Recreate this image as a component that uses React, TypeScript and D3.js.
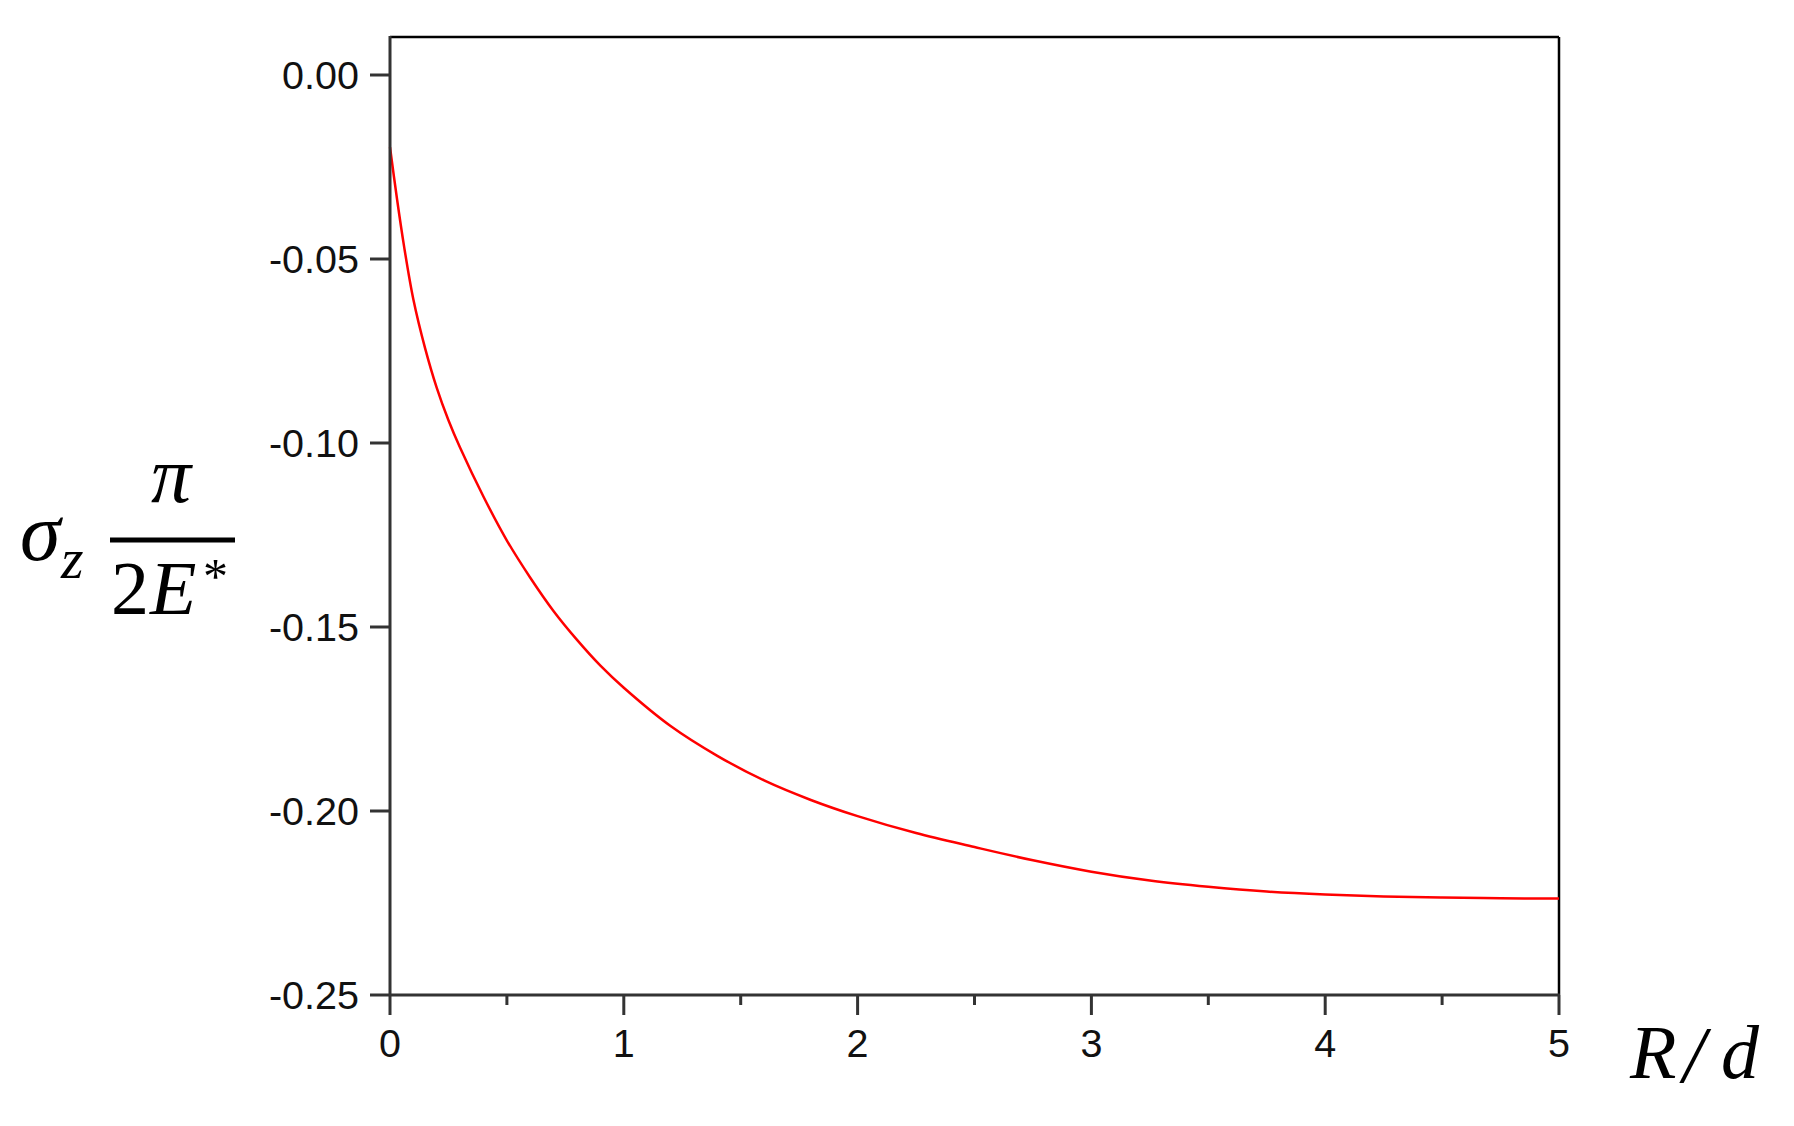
import React from "react";
import * as d3 from "d3";

const xValues = [0, 0.03, 0.06, 0.1, 0.15, 0.2, 0.25, 0.3, 0.4, 0.5, 0.6, 0.7, 0.8, 0.9, 1.0, 1.2, 1.4, 1.6, 1.8, 2.0, 2.25, 2.5, 2.75, 3.0, 3.25, 3.5, 3.75, 4.0, 4.25, 4.5, 4.75, 5.0];
const yValues = [-0.0196, -0.0337, -0.0465, -0.061, -0.0742, -0.085, -0.0938, -0.1013, -0.1146, -0.1265, -0.1366, -0.1457, -0.1535, -0.1605, -0.1665, -0.1769, -0.185, -0.1917, -0.197, -0.2014, -0.206, -0.2098, -0.2134, -0.2165, -0.2189, -0.2206, -0.2219, -0.2227, -0.2232, -0.2235, -0.2237, -0.2238];
const xMajorTicks = [0, 1, 2, 3, 4, 5];
const xMinorTicks = [0.5, 1.5, 2.5, 3.5, 4.5];
const yTicks = [0, -0.05, -0.1, -0.15, -0.2, -0.25];
const yTickLabels = ["0.00", "-0.05", "-0.10", "-0.15", "-0.20", "-0.25"];

const W = 1794;
const H = 1126;
const left = 390;
const right = 1559;
const frameTop = 37;
const bottom = 995;

export default function App() {
  const x = d3.scaleLinear().domain([0, 5]).range([left, right]);
  const y = d3.scaleLinear().domain([-0.25, 0]).range([bottom, 75]);
  const pts = xValues.map((v, i) => [v, yValues[i]] as [number, number]);
  const line = d3
    .line<[number, number]>()
    .x((d) => x(d[0]))
    .y((d) => y(d[1]))
    .curve(d3.curveCatmullRom.alpha(0.5));

  const sans = "'Liberation Sans', Arial, sans-serif";
  const serif = "'Liberation Serif', 'DejaVu Serif', serif";

  return (
    <div style={{ position: "absolute", left: 0, top: 0 }}>
      <svg width={W} height={H} style={{ display: "block", background: "#fff" }}>
        <line x1={left} x2={right} y1={frameTop} y2={frameTop} stroke="#000" strokeWidth={2.5} />
        <line x1={right} x2={right} y1={frameTop} y2={bottom} stroke="#000" strokeWidth={2.5} />
        <path d={line(pts) || ""} fill="none" stroke="#ff0000" strokeWidth={2.5} />
        <line x1={left} x2={left} y1={frameTop - 1} y2={bottom} stroke="#333" strokeWidth={3} />
        <line x1={left} x2={right + 1} y1={bottom} y2={bottom} stroke="#333" strokeWidth={3} />
        {yTicks.map((t, i) => (
          <g key={"yt" + i}>
            <line x1={left - 20} x2={left} y1={y(t)} y2={y(t)} stroke="#333" strokeWidth={3} />
            <text x={359} y={y(t) + 14} textAnchor="end" fontFamily={sans} fontSize={39.5} fill="#111">
              {yTickLabels[i]}
            </text>
          </g>
        ))}
        {xMajorTicks.map((t) => (
          <g key={"xt" + t}>
            <line x1={x(t)} x2={x(t)} y1={bottom} y2={bottom + 20} stroke="#333" strokeWidth={3} />
            <text x={x(t)} y={1057} textAnchor="middle" fontFamily={sans} fontSize={39.5} fill="#111">
              {String(t)}
            </text>
          </g>
        ))}
        {xMinorTicks.map((t) => (
          <line key={"xm" + t} x1={x(t)} x2={x(t)} y1={bottom} y2={bottom + 10} stroke="#333" strokeWidth={3} />
        ))}
        <text x={20} y={560} fontFamily={serif} fontStyle="italic" fontSize={82} fill="#000">σ</text>
        <text x={61} y={578} fontFamily={serif} fontStyle="italic" fontSize={58} fill="#000">z</text>
        <text x={171} y={502} textAnchor="middle" fontFamily={serif} fontStyle="italic" fontSize={80} fill="#000">π</text>
        <line x1={110} x2={235} y1={540} y2={540} stroke="#000" strokeWidth={5} />
        <text x={111} y={614} fontFamily={serif} fontSize={76} fill="#000">2</text>
        <text x={150} y={614} fontFamily={serif} fontStyle="italic" fontSize={76} fill="#000">E</text>
        <text x={203} y={593} fontFamily={serif} fontSize={50} fill="#000">*</text>
        <text x={1630} y={1078} fontFamily={serif} fontStyle="italic" fontSize={76} fill="#000">R</text>
        <text x={1683} y={1082} fontFamily={serif} fontStyle="italic" fontSize={80} fill="#000">/</text>
        <text x={1721} y={1078} fontFamily={serif} fontStyle="italic" fontSize={76} fill="#000">d</text>
      </svg>
    </div>
  );
}
